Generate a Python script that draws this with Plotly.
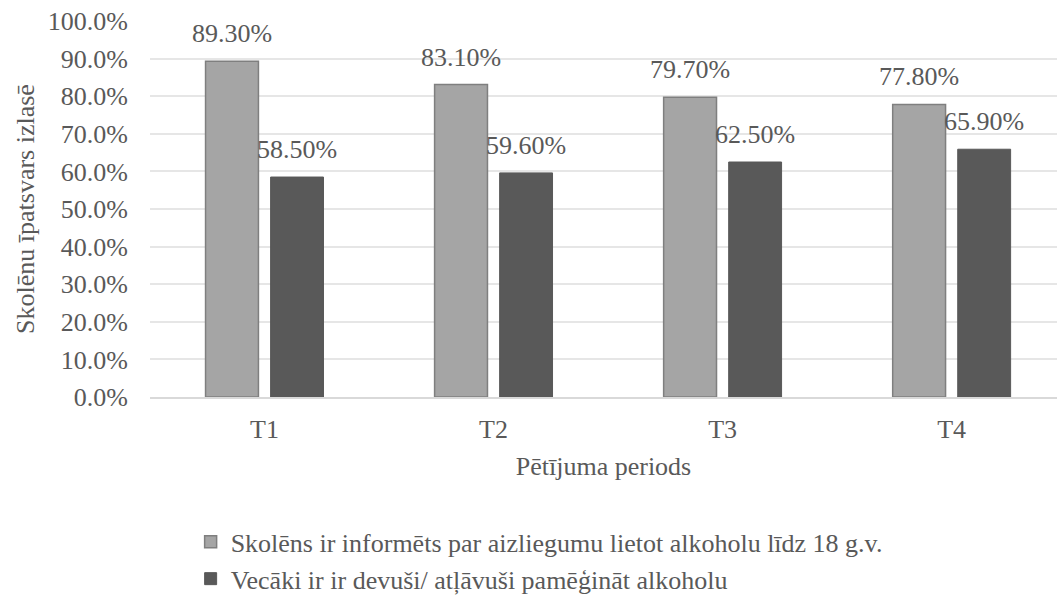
import plotly.graph_objects as go

categories = ["T1", "T2", "T3", "T4"]
series1_name = "Skolēns ir informēts par aizliegumu lietot alkoholu līdz 18 g.v."
series2_name = "Vecāki ir ir devuši/ atļāvuši pamēģināt alkoholu"
series1 = [0.893, 0.831, 0.797, 0.778]
series2 = [0.585, 0.596, 0.625, 0.659]
y_ticks = [i / 10 for i in range(11)]

FF = "Liberation Serif"
TC = "#595959"
FS = 26

fig = go.Figure()
fig.add_trace(go.Bar(x=categories, y=series1, name=series1_name, legendgroup="g1",
                     marker=dict(color="#a5a5a5", line=dict(color="#7f7f7f", width=1.5))))
fig.add_trace(go.Bar(x=categories, y=series2, name=series2_name, legendgroup="g2",
                     marker=dict(color="#595959", line=dict(color="#595959", width=1))))

ann = []
for c, v1, v2 in zip(categories, series1, series2):
    for v, xs in ((v1, -32.5), (v2, 32.5)):
        ann.append(dict(x=c, y=v, xref="x", yref="y", text=f"{v*100:.2f}%", showarrow=False,
                        xshift=xs, yshift=11, yanchor="bottom",
                        font=dict(family=FF, size=FS, color=TC)))

fig.update_layout(
    width=1057, height=596,
    margin=dict(l=150, r=0, t=21, b=199, autoexpand=False),
    paper_bgcolor="white", plot_bgcolor="white",
    barmode="group", bargap=0.432, bargroupgap=0.187,
    font=dict(family=FF, size=FS, color=TC),
    annotations=ann,
    showlegend=True,
    legend=dict(orientation="v", x=0.0448, xref="paper", y=-0.323, yanchor="top", xanchor="left",
                font=dict(family=FF, size=FS, color=TC), itemwidth=30, tracegroupgap=0),
    xaxis=dict(title=dict(text="Pētījuma periods", standoff=14,
                          font=dict(family=FF, size=FS, color=TC)),
               range=[-0.5, 3.46],
               showline=True, linecolor="#d9d9d9", linewidth=1.5,
               ticks="outside", ticklen=8, tickcolor="rgba(0,0,0,0)",
               tickfont=dict(family=FF, size=FS, color=TC)),
    yaxis=dict(title=dict(text="Skolēnu īpatsvars izlasē", standoff=5,
                          font=dict(family=FF, size=FS, color=TC)),
               range=[0, 1.0], tickvals=y_ticks, tickformat=".1%",
               ticks="outside", ticklen=16, tickcolor="rgba(0,0,0,0)",
               showgrid=True, gridcolor="#e6e6e6", gridwidth=1.5, zeroline=False,
               tickfont=dict(family=FF, size=FS, color=TC)),
)

fig.write_html("out.html", config={"displayModeBar": False},
               post_script="document.body.style.margin='0';document.body.style.overflow='hidden';")
